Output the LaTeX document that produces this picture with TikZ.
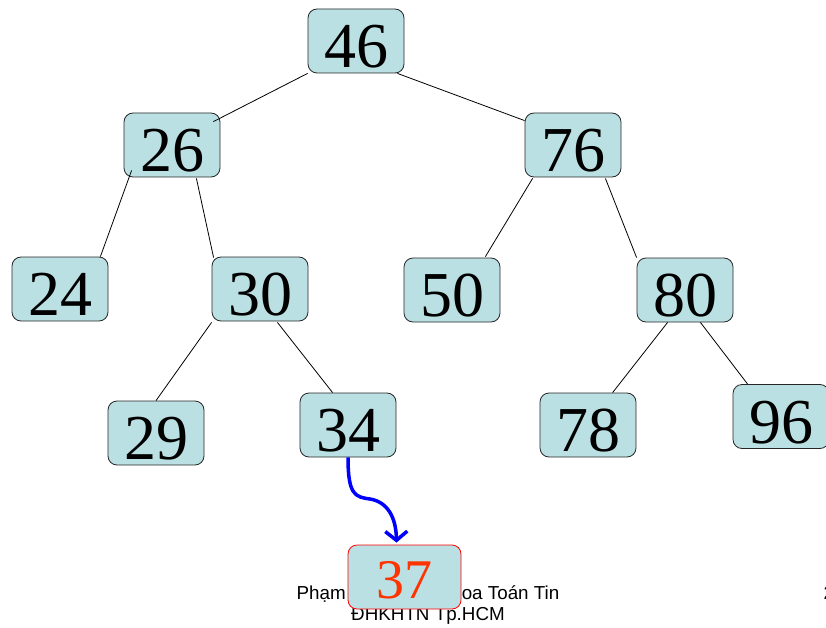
\documentclass[tikz,border=0pt]{standalone}
\usepackage{fontspec}
\setmainfont{Liberation Serif}
\newfontfamily\footfont{Liberation Sans}
\usetikzlibrary{calc,arrows.meta}
\definecolor{boxfill}{RGB}{187,224,227}
\definecolor{hotred}{RGB}{255,51,0}
\begin{document}
\begin{tikzpicture}[x=1pt,y=-1pt,
  tnode/.style={draw=black!85,line width=0.8pt,fill=boxfill,rounded corners=9pt,
    minimum width=96pt,minimum height=64pt,inner sep=0pt,
    font=\fontsize{64}{64}\selectfont,text height=53pt,text depth=0pt},
  newnode/.style={draw=red,line width=0.8pt,fill=boxfill,rounded corners=9pt,
    minimum width=113pt,minimum height=64pt,inner sep=0pt,text=hotred,
    font=\fontsize{56}{56}\selectfont,text height=42pt,text depth=0pt},
  edge/.style={draw=black,line width=0.8pt},
  insarrow/.style={draw=blue,line width=3.5pt,-{Straight Barb[length=9pt,width=22pt]}}]
\useasboundingbox (0,0) rectangle (826,628);
% footer (behind the new node)
\node[font=\footfont\fontsize{18.8}{21}\selectfont,align=center,anchor=base] (foot) at (428,620)
  {Phạm Thế Bảo - Khoa Toán Tin\\ĐHKHTN Tp.HCM};
\node[font=\footfont\fontsize{18.8}{21}\selectfont,anchor=base west] (pagenum) at (820,599) {2};
% tree nodes
\node[tnode] (n46) at (356,41) {46};
\node[tnode] (n26) at (172,145) {26};
\node[tnode] (n76) at (573,145) {76};
\node[tnode] (n24) at (60,289) {24};
\node[tnode] (n30) at (260,289) {30};
\node[tnode] (n50) at (452,290) {50};
\node[tnode] (n80) at (685,290) {80};
\node[tnode] (n29) at (156,433) {29};
\node[tnode] (n34) at (348,425) {34};
\node[tnode] (n78) at (588,425) {78};
\node[tnode] (n96) at (781,416.5) {96};
\node[newnode] (n37) at (404.5,577) {37};
% edges
\draw[edge] (n46.south west) -- ($(n26.north east)+(-7,9)$);
\draw[edge] ($(n46.south east)+(-7,0)$) -- ($(n76.north west)+(0,8)$);
\draw[edge] ($(n26.south west)+(8,-7)$) -- ($(n24.north east)+(-8,0)$);
\draw[edge] ($(n26.south east)+(-24,1)$) -- ($(n30.north west)+(2,1)$);
\draw[edge] ($(n76.south west)+(8,1)$) -- ($(n50.north east)+(-15,-1)$);
\draw[edge] ($(n76.south east)+(-16,1)$) -- (n80.north west);
\draw[edge] ($(n30.south west)+(0,1)$) -- (n29.north);
\draw[edge] ($(n30.south east)+(-31,1)$) -- ($(n34.north west)+(33,0)$);
\draw[edge] ($(n80.south west)+(31,0)$) -- ($(n78.north west)+(73,0)$);
\draw[edge] ($(n80.south east)+(-33,0)$) -- ($(n96.north west)+(15,0)$);
% insertion arrow
\coordinate (tip) at ($(n37.north)+(-8,-2)$);
\draw[insarrow] (n34.south) .. controls (348,495) and (355,497) .. (370,499)
  .. controls (388,502) and (396,518) .. (tip);
\end{tikzpicture}
\end{document}
